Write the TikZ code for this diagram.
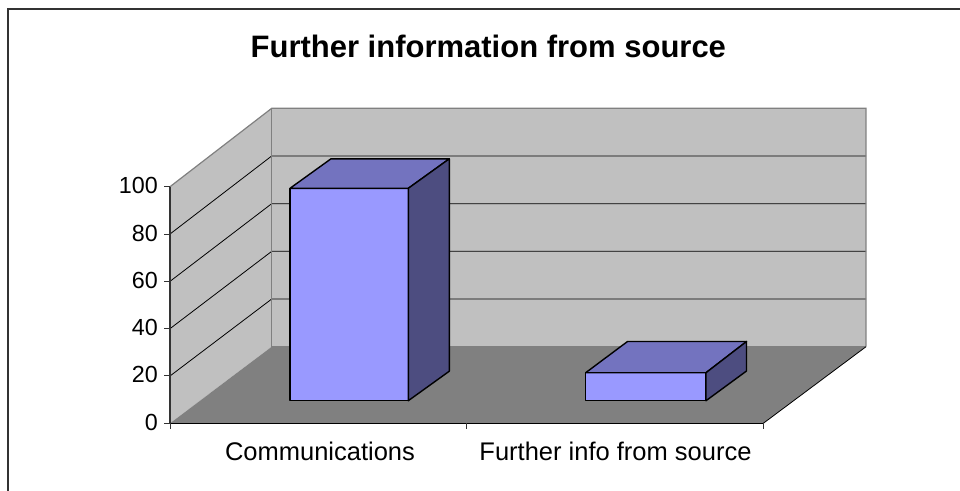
\documentclass[tikz,border=0pt]{standalone}
\usepackage{fontspec}
\setmainfont{Liberation Sans}
\definecolor{wall}{HTML}{C0C0C0}
\definecolor{floorc}{HTML}{808080}
\definecolor{edgegray}{HTML}{808080}
\definecolor{barfront}{HTML}{9999FF}
\definecolor{bartop}{HTML}{7373BF}
\definecolor{barside}{HTML}{4D4D80}
\definecolor{frame}{HTML}{333333}
\begin{document}
\begin{tikzpicture}[x=1pt,y=-1pt,
  gridline/.style={black,line width=0.8pt},
  edge/.style={edgegray,line width=1.2pt},
  barline/.style={black,line width=1.4pt,line join=round},
  axislabel/.style={font=\fontsize{25.5}{28}\selectfont,inner sep=0pt},
  ticklabel/.style={font=\fontsize{23.3}{26}\selectfont,inner sep=0pt,anchor=base east},
  ]
\useasboundingbox (0,0) rectangle (960,490);
% frame
\draw[frame,line width=2pt] (8,491) -- (8,8.5) -- (961,8.5);
% title
\node[font=\bfseries\fontsize{31}{34}\selectfont,inner sep=0pt,anchor=base] (title) at (488.3,57.5) {Further information from source};

% corners of the box
\coordinate (FL) at (170,423.3);   % front-left bottom
\coordinate (FT) at (170,186.7);   % front-left top
\coordinate (BL) at (271.7,346.7); % back-left bottom
\coordinate (BT) at (271.7,108.3); % back-left top
\coordinate (BR) at (866,346.7);   % back-right bottom
\coordinate (BRT) at (866,108.3);  % back-right top
\coordinate (FR) at (763.3,423.3); % front-right bottom

% walls and floor
\fill[wall] (BT) rectangle (BR);
\fill[wall] (FL) -- (FT) -- (BT) -- (BL) -- cycle;
\fill[floorc] (FL) -- (BL) -- (BR) -- (FR) -- cycle;

% gridlines
\foreach \i in {1,2,3,4} {
  \pgfmathsetmacro{\yf}{423.3-47.32*\i}
  \pgfmathsetmacro{\yb}{346.7-47.68*\i}
  \draw[gridline] (170,\yf) -- (271.7,\yb) -- (866,\yb);
}
% edges
\draw[edge] (FT) -- (BT) -- (BRT) -- (BR);
\draw[edge] (BT) -- (BL) -- (BR);
\draw[black,line width=0.8pt] (BR) -- (FR);

% axes
\draw[frame,line width=1.2pt] (FT) -- (FL);
\draw[black,line width=1.2pt] (FL) -- (FR);
\foreach \i/\lab in {0/0,1/20,2/40,3/60,4/80,5/100} {
  \pgfmathsetmacro{\yt}{423.3-47.32*\i}
  \draw[frame,line width=1pt] (164,\yt) -- (170,\yt);
  \node[ticklabel] (yl\i) at (158,\yt+7) {\lab};
}
\foreach \xx in {170,466.7,763.3} {
  \draw[frame,line width=1pt] (\xx,423.3) -- (\xx,429);
}
\node[axislabel,anchor=base] (c1) at (320,460.5) {Communications};
\node[axislabel,anchor=base] (c2) at (615.5,460.5) {Further info from source};

% bar 1
\coordinate (a1) at (290,188.3);
\coordinate (a2) at (408.3,188.3);
\coordinate (a3) at (408.3,400.7);
\coordinate (a4) at (290,400.7);
\coordinate (a5) at (449.3,158.8);
\coordinate (a6) at (331,158.8);
\coordinate (a7) at (449.3,371.2);
\filldraw[barline,fill=barfront] (a1) -- (a2) -- (a3) -- (a4) -- cycle;
\filldraw[barline,fill=bartop] (a1) -- (a2) -- (a5) -- (a6) -- cycle;
\filldraw[barline,fill=barside] (a2) -- (a5) -- (a7) -- (a3) -- cycle;

% bar 2
\coordinate (b1) at (585.7,372.7);
\coordinate (b2) at (706,372.7);
\coordinate (b3) at (706,400.7);
\coordinate (b4) at (585.7,400.7);
\coordinate (b5) at (746.5,341.5);
\coordinate (b6) at (627.5,341.5);
\coordinate (b7) at (746.5,371);
\filldraw[barline,fill=barfront] (b1) -- (b2) -- (b3) -- (b4) -- cycle;
\filldraw[barline,fill=bartop] (b1) -- (b2) -- (b5) -- (b6) -- cycle;
\filldraw[barline,fill=barside] (b2) -- (b5) -- (b7) -- (b3) -- cycle;
\end{tikzpicture}
\end{document}
